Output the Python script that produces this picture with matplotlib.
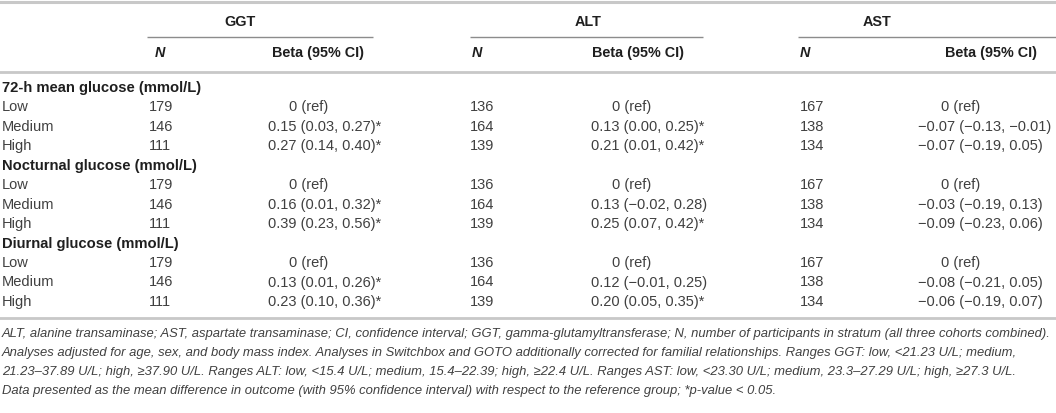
import matplotlib
matplotlib.use("Agg")
import matplotlib.pyplot as plt

plt.rcParams['font.family'] = ['Liberation Sans', 'DejaVu Sans']

groups = ["GGT", "ALT", "AST"]
sections = ["72-h mean glucose (mmol/L)", "Nocturnal glucose (mmol/L)", "Diurnal glucose (mmol/L)"]
levels = ["Low", "Medium", "High"]

# N per group (same for every section)
n_ggt = [179, 146, 111]
n_alt = [136, 164, 139]
n_ast = [167, 138, 134]

beta_ggt = [
    ["0 (ref)", "0.15 (0.03, 0.27)*", "0.27 (0.14, 0.40)*"],
    ["0 (ref)", "0.16 (0.01, 0.32)*", "0.39 (0.23, 0.56)*"],
    ["0 (ref)", "0.13 (0.01, 0.26)*", "0.23 (0.10, 0.36)*"],
]
beta_alt = [
    ["0 (ref)", "0.13 (0.00, 0.25)*", "0.21 (0.01, 0.42)*"],
    ["0 (ref)", "0.13 (\u22120.02, 0.28)", "0.25 (0.07, 0.42)*"],
    ["0 (ref)", "0.12 (\u22120.01, 0.25)", "0.20 (0.05, 0.35)*"],
]
beta_ast = [
    ["0 (ref)", "\u22120.07 (\u22120.13, \u22120.01)", "\u22120.07 (\u22120.19, 0.05)"],
    ["0 (ref)", "\u22120.03 (\u22120.19, 0.13)", "\u22120.09 (\u22120.23, 0.06)"],
    ["0 (ref)", "\u22120.08 (\u22120.21, 0.05)", "\u22120.06 (\u22120.19, 0.07)"],
]

footnotes = [
    "ALT, alanine transaminase; AST, aspartate transaminase; CI, confidence interval; GGT, gamma-glutamyltransferase; N, number of participants in stratum (all three cohorts combined).",
    "Analyses adjusted for age, sex, and body mass index. Analyses in Switchbox and GOTO additionally corrected for familial relationships. Ranges GGT: low, <21.23 U/L; medium,",
    "21.23\u201337.89 U/L; high, \u226537.90 U/L. Ranges ALT: low, <15.4 U/L; medium, 15.4\u201322.39; high, \u226522.4 U/L. Ranges AST: low, <23.30 U/L; medium, 23.3\u201327.29 U/L; high, \u226527.3 U/L.",
    "Data presented as the mean difference in outcome (with 95% confidence interval) with respect to the reference group; *p-value < 0.05.",
]

fig = plt.figure(figsize=(10.56, 4.13), dpi=100)
ax = fig.add_axes([0, 0, 1, 1])
ax.set_xlim(0, 1056)
ax.set_ylim(413, 0)
ax.axis("off")

body = "#404040"
head = "#1f1f1f"
fs = 10.5
fs_head = 10.4

# layout
grp_label_x = [240, 588, 877]
grp_line = [(147, 373), (470, 703), (798, 1056)]
n_x = [149, 470, 800]
n_head_x = [160, 477, 805]
beta_head_x = [318, 638, 991]
beta_x = [268, 591, 918]
ref_x = [289, 612, 941]

ax.axhline(2, color="#c8c8c8", lw=2.2)
ax.axhline(71.5, color="#c8c8c8", lw=2.0)
ax.axhline(318, color="#c8c8c8", lw=2.0)

for g in range(3):
    ax.text(grp_label_x[g], 22, groups[g], ha="center", va="center", fontsize=fs_head, fontweight="bold", color=head)
    ax.plot(grp_line[g], [37, 37], color="#8c8c8c", lw=1.0, solid_capstyle="butt")
    ax.text(n_head_x[g], 53, "N", ha="center", va="center", fontsize=fs_head, fontweight="bold", style="italic", color=head)
    ax.text(beta_head_x[g], 53, "Beta (95% CI)", ha="center", va="center", fontsize=fs_head, fontweight="bold", color=head)

ns = [n_ggt, n_alt, n_ast]
betas = [beta_ggt, beta_alt, beta_ast]
row_h = 19.45
y0 = 88
for s in range(3):
    ys = y0 + row_h * 4 * s
    ax.text(2, ys, sections[s], ha="left", va="center", fontsize=fs_head + 0.2, fontweight="bold", color=head)
    for i in range(3):
        y = ys + row_h * (i + 1)
        ax.text(2, y, levels[i], ha="left", va="center", fontsize=fs, color=body)
        for g in range(3):
            ax.text(n_x[g], y, str(ns[g][i]), ha="left", va="center", fontsize=fs, color=body)
            txt = betas[g][s][i]
            x = ref_x[g] if txt == "0 (ref)" else beta_x[g]
            ax.text(x, y, txt, ha="left", va="center", fontsize=fs, color=body)

for k, line in enumerate(footnotes):
    ax.text(2, 333.5 + 19.2 * k, line, ha="left", va="center", fontsize=9.4, style="italic", color=body)

fig.savefig("out.png", dpi=100)
